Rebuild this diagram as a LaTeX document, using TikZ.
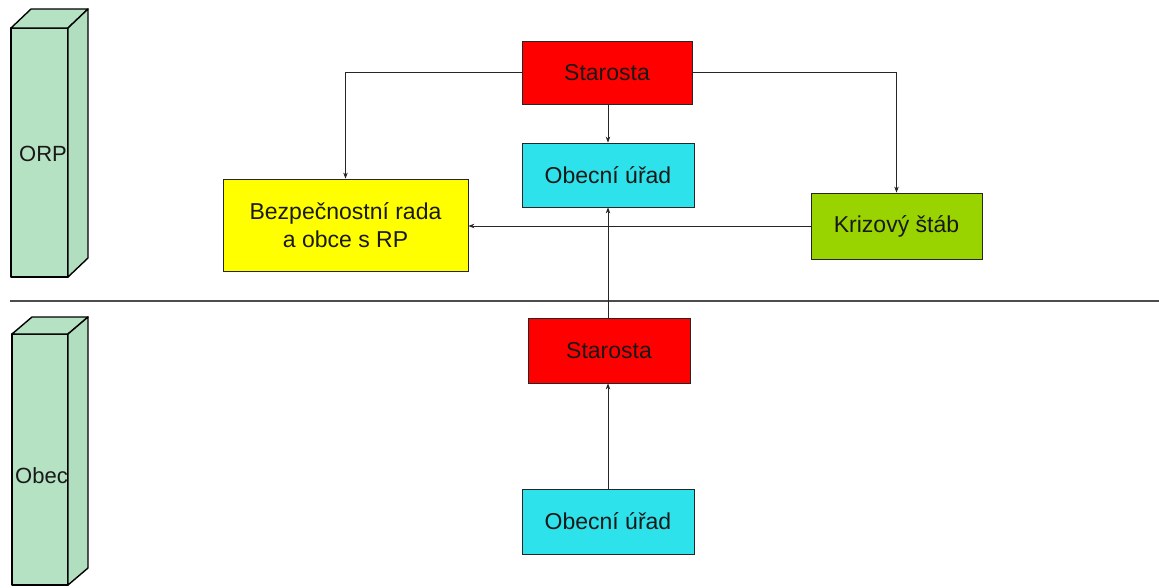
\documentclass[tikz,border=0pt]{standalone}
\usepackage{fontspec}
\setmainfont{Liberation Sans}
\usetikzlibrary{arrows.meta}
\definecolor{boxred}{RGB}{255,0,0}
\definecolor{boxcyan}{RGB}{45,226,234}
\definecolor{boxyellow}{RGB}{255,255,0}
\definecolor{boxgreen}{RGB}{153,212,0}
\definecolor{mint}{RGB}{182,226,196}
\definecolor{mintside}{RGB}{178,222,192}
\begin{document}
\begin{tikzpicture}[x=1pt,y=-1pt,
  orgbox/.style={draw=black!85, line width=0.8pt, minimum width=170pt, minimum height=64pt,
    inner sep=2pt, align=center, font=\fontsize{23}{28}\selectfont, text=black!90},
  arr/.style={draw=black!85, line width=0.8pt, -{Stealth[length=6pt,width=4.5pt]}},
  pillar/.style={fill=mint, draw=black, line width=1.4pt, line join=round},
  pillarside/.style={fill=mintside, draw=black, line width=1.4pt, line join=round},
  pillartext/.style={anchor=west, inner sep=0pt, font=\fontsize{22}{26}\selectfont, text=black!90}
]
\useasboundingbox (0,0) rectangle (1159,587);

% ORP pillar
\filldraw[pillar] (11,28) -- (68,28) -- (68,277) -- (11,277) -- cycle;
\filldraw[pillar] (11,28) -- (31,9) -- (88,9) -- (68,28) -- cycle;
\node[pillartext] (orp) at (19,154) {ORP};
\filldraw[pillarside] (68,28) -- (88,9) -- (88,258) -- (68,277) -- cycle;

% Obec pillar
\filldraw[pillar] (12,334) -- (68,334) -- (68,585) -- (12,585) -- cycle;
\filldraw[pillar] (12,334) -- (32,317) -- (88,317) -- (68,334) -- cycle;
\node[pillartext] (obec) at (15,476) {Obec};
\filldraw[pillarside] (68,334) -- (88,317) -- (88,568) -- (68,585) -- cycle;

% separator
\coordinate (sepL) at (10,301);
\coordinate (sepR) at (1159,301);
\draw[black!70, line width=1.2pt] (sepL) -- (sepR);

% nodes
\node[orgbox, fill=boxred, minimum width=170pt, minimum height=63pt] (st1) at (607,72.5) {Starosta};
\node[orgbox, fill=boxcyan, minimum width=172pt, minimum height=64pt] (ou1) at (608,175) {Obecní úřad};
\node[orgbox, fill=boxyellow, minimum width=245pt, minimum height=92pt] (bez) at (345.5,225) {Bezpečnostní rada\\a obce s RP};
\node[orgbox, fill=boxgreen, minimum width=171pt, minimum height=66pt] (kr) at (896.5,226) {Krizový štáb};
\node[orgbox, fill=boxred, minimum width=162pt, minimum height=65pt] (st2) at (609,350.5) {Starosta};
\node[orgbox, fill=boxcyan, minimum width=172pt, minimum height=65pt] (ou2) at (608,521.5) {Obecní úřad};

% connectors
\draw[arr] (st1.west) -| (bez.north);
\draw[arr] (st1.east) -| (kr.north);
\draw[arr] (st1.south -| ou1.north) -- (ou1.north);
\draw[arr] (kr.west) -- (kr.west -| bez.east);
\draw[arr] (st2.north -| ou1.south) -- (ou1.south);
\draw[arr] (ou2.north) -- (ou2.north |- st2.south);
\end{tikzpicture}
\end{document}
